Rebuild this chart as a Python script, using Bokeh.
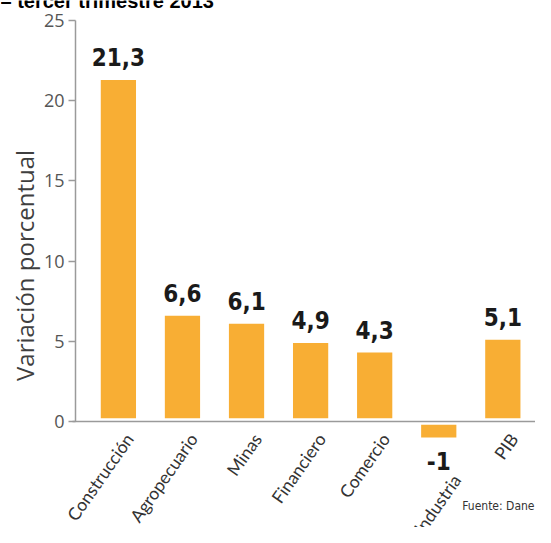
from bokeh.plotting import figure
from bokeh.models import Range1d, Label, ColumnDataSource, FixedTicker, LinearAxis
from bokeh.core.properties import value
from bokeh.embed import file_html
from bokeh.resources import INLINE

# ---- data ----
categories = ["Construcción", "Agropecuario", "Minas", "Financiero", "Comercio", "Industria", "PIB"]
values = [21.3, 6.6, 6.1, 4.9, 4.3, -1.0, 5.1]
y_ticks = [0, 5, 10, 15, 20, 25]
title_text = "– tercer trimestre 2013"
y_title = "Variación porcentual"
source_note = "Fuente: Dane"

# ---- styles ----
BAR = "#F8AE34"
AXIS = "#9a9a9a"
GAP = 0.2
COND = "DejaVu Sans Condensed, Roboto, sans-serif"

idx = list(range(len(categories)))
value_labels = [f"{v:g}".replace(".", ",") for v in values]

bars = ColumnDataSource(dict(
    x=idx, cat=categories, top=values,
    bottom=[GAP if v >= 0 else -GAP for v in values],
))
pos = [i for i, v in enumerate(values) if v >= 0]
neg = [i for i, v in enumerate(values) if v < 0]
pos_src = ColumnDataSource(dict(x=pos, y=[values[i] for i in pos],
                                 t=[value_labels[i] for i in pos]))
neg_src = ColumnDataSource(dict(x=neg, y=[values[i] for i in neg],
                                t=[value_labels[i] for i in neg]))
cat_src = ColumnDataSource(dict(
    x=idx, cat=categories,
    y=[min(v, 0) for v in values],
    xoff=[11 + (7 if v < 0 else 0) for v in values],
    yoff=[14 + (25 if v < 0 else 0) for v in values],
))

# the plotting area covers the whole canvas; axes are drawn at fixed places inside it
p = figure(width=535, height=527,
           x_range=Range1d(-1.84, 6.51), y_range=Range1d(-6.61, 26.25),
           x_axis_location=None, y_axis_location=None,
           toolbar_location=None, output_backend="svg",
           min_border_left=0, min_border_right=0, min_border_top=0, min_border_bottom=0)
p.outline_line_color = None
p.xgrid.visible = False
p.ygrid.visible = False
p.background_fill_color = "white"
p.border_fill_color = "white"

p.vbar(x="x", top="top", bottom="bottom", width=0.55, source=bars,
       fill_color=BAR, line_color=None)

# y axis
yax = LinearAxis(fixed_location=-0.668, bounds=(0, 25))
yax.ticker = FixedTicker(ticks=y_ticks)
yax.axis_line_color = AXIS
yax.axis_line_width = 1.5
yax.major_tick_line_color = AXIS
yax.major_tick_line_width = 1.5
yax.major_tick_in = 0
yax.major_tick_out = 7
yax.minor_tick_line_color = None
yax.major_label_standoff = 4
yax.major_label_text_font = "Open Sans"
yax.major_label_text_font_size = "18px"
yax.major_label_text_color = "#555555"
p.add_layout(yax, "left")

# zero line
xax = LinearAxis(fixed_location=0, bounds=(-0.716, 6.51))
xax.ticker = FixedTicker(ticks=[])
xax.axis_line_color = AXIS
xax.axis_line_width = 1.5
xax.major_tick_line_color = None
xax.minor_tick_line_color = None
xax.major_label_text_color = None
p.add_layout(xax, "below")

# value labels
p.text(x="x", y="y", text="t", source=pos_src, text_align="center",
       text_baseline="middle", y_offset=-23,
       text_font=value(COND), text_font_style="bold",
       text_font_size="24px", text_color="#1a1a1a")
p.text(x="x", y="y", text="t", source=neg_src, text_align="center",
       text_baseline="top", y_offset=14,
       text_font=value(COND), text_font_style="bold",
       text_font_size="24px", text_color="#1a1a1a")

# category labels, hanging below the zero line / the negative value label
p.text(x="x", y="y", text="cat", source=cat_src, angle=0.96,
       text_align="right", text_baseline="middle", x_offset="xoff", y_offset="yoff",
       text_font=value("Lato"), text_font_size="17.5px", text_color="#333333")

# y axis title
p.add_layout(Label(x=24, y=9.73, x_units="screen", y_units="data", text=y_title,
                   angle=1.5708, text_align="center", text_baseline="middle",
                   text_font="Open Sans", text_font_size="24px", text_color="#3f3f3f"))

# source note
p.add_layout(Label(x=534, y=-5.24, x_units="screen", y_units="data", text=source_note,
                   text_align="right", text_baseline="middle",
                   text_font=COND, text_font_size="12px", text_color="#333333"))

# title, only its lower part shows at the top edge
p.add_layout(Label(x=0, y=26.24, x_units="screen", y_units="data", text=title_text,
                   text_align="left", text_baseline="middle",
                   text_font="Liberation Sans", text_font_style="bold",
                   text_font_size="20px", text_color="#000000"))

open("out.html", "w").write(file_html(p, INLINE))
